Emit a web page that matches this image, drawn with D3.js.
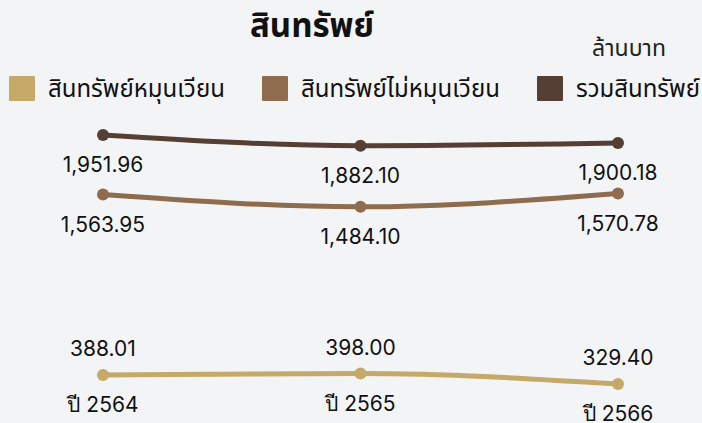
<!DOCTYPE html>
<html>
<head>
<meta charset="utf-8">
<script src="https://cdn.jsdelivr.net/npm/d3@7"></script>
<style>
  body { margin: 0; background: #f3f4f6; }
  svg { display: block; font-family: "Noto Sans Thai", "Noto Sans", "DejaVu Sans", sans-serif; }
  .num { font-family: "Inter", "Noto Sans", sans-serif; }
</style>
</head>
<body>
<svg id="chart" width="702" height="423"></svg>
<script>
// Data
var years = ["ปี 2564", "ปี 2565", "ปี 2566"];
var currentAssets = [388.01, 398.00, 329.40];
var nonCurrentAssets = [1563.95, 1484.10, 1570.78];
var totalAssets = [1951.96, 1882.10, 1900.18];
var seriesNames = ["สินทรัพย์หมุนเวียน", "สินทรัพย์ไม่หมุนเวียน", "รวมสินทรัพย์"];
var colors = ["#c4a968", "#8f6c4d", "#553e33"];

var width = 702, height = 423;
var svg = d3.select("#chart");

// Series (label side: -1 above, 1 below)
var series = [
  { name: seriesNames[0], values: currentAssets, color: colors[0], side: -1 },
  { name: seriesNames[1], values: nonCurrentAssets, color: colors[1], side: 1 },
  { name: seriesNames[2], values: totalAssets, color: colors[2], side: 1 }
];

// Scales
var xScale = d3.scalePoint().domain(years).range([103, 618]);
var allVals = currentAssets.concat(nonCurrentAssets, totalAssets);
var yScale = d3.scaleLinear()
  .domain([d3.min(allVals), d3.max(allVals)])
  .range([384, 135]);

var line = d3.line().curve(d3.curveMonotoneX)
  .x(function(d, i) { return xScale(years[i]); })
  .y(function(d) { return yScale(d); });

// Title + unit
svg.append("text")
  .attr("x", 312).attr("y", 37)
  .attr("text-anchor", "middle")
  .style("font-size", "33px").style("font-weight", "bold").style("fill", "#111")
  .text("สินทรัพย์");
svg.append("text")
  .attr("x", 629).attr("y", 56)
  .attr("text-anchor", "middle")
  .style("font-size", "23px").style("fill", "#222")
  .text("ล้านบาท");

// Legend
var legendX = [9, 262, 537];
var legend = svg.selectAll(".legend")
  .data(series).enter()
  .append("g")
    .attr("class", "legend")
    .attr("transform", function(d, i) { return "translate(" + legendX[i] + ",76)"; });
legend.append("rect")
  .attr("width", 26).attr("height", 25).attr("rx", 1)
  .style("fill", function(d) { return d.color; });
legend.append("text")
  .attr("x", 39).attr("y", 21)
  .style("font-size", "24px").style("fill", "#111")
  .text(function(d) { return d.name; });

// Lines + points + labels
var fmt = d3.format(",.2f");
var g = svg.selectAll(".series")
  .data(series).enter()
  .append("g").attr("class", "series");
g.append("path")
  .attr("d", function(d) { return line(d.values); })
  .style("fill", "none")
  .style("stroke", function(d) { return d.color; })
  .style("stroke-width", 5)
  .style("stroke-linecap", "round");
g.selectAll("circle")
  .data(function(d) { return d.values.map(function(v, i) { return { v: v, i: i, s: d }; }); })
  .enter().append("circle")
    .attr("cx", function(d) { return xScale(years[d.i]); })
    .attr("cy", function(d) { return yScale(d.v); })
    .attr("r", 6)
    .style("fill", function(d) { return d.s.color; });
g.selectAll("text.num")
  .data(function(d) { return d.values.map(function(v, i) { return { v: v, i: i, s: d }; }); })
  .enter().append("text")
    .attr("class", "num")
    .attr("x", function(d) { return xScale(years[d.i]); })
    .attr("y", function(d) { return yScale(d.v) + d.s.side * (d.s.side > 0 ? 30 : 26); })
    .attr("dy", "0.35em")
    .attr("text-anchor", "middle")
    .style("font-size", "21px").style("fill", "#111")
    .text(function(d) { return fmt(d.v); });

// Year labels under the lowest series
svg.selectAll(".year")
  .data(years).enter()
  .append("text")
    .attr("class", "year num")
    .attr("x", function(d) { return xScale(d); })
    .attr("y", function(d, i) { return yScale(currentAssets[i]) + 30; })
    .attr("dy", "0.35em")
    .attr("text-anchor", "middle")
    .style("font-size", "21px").style("fill", "#111")
    .text(function(d) { return d; });
</script>
</body>
</html>
